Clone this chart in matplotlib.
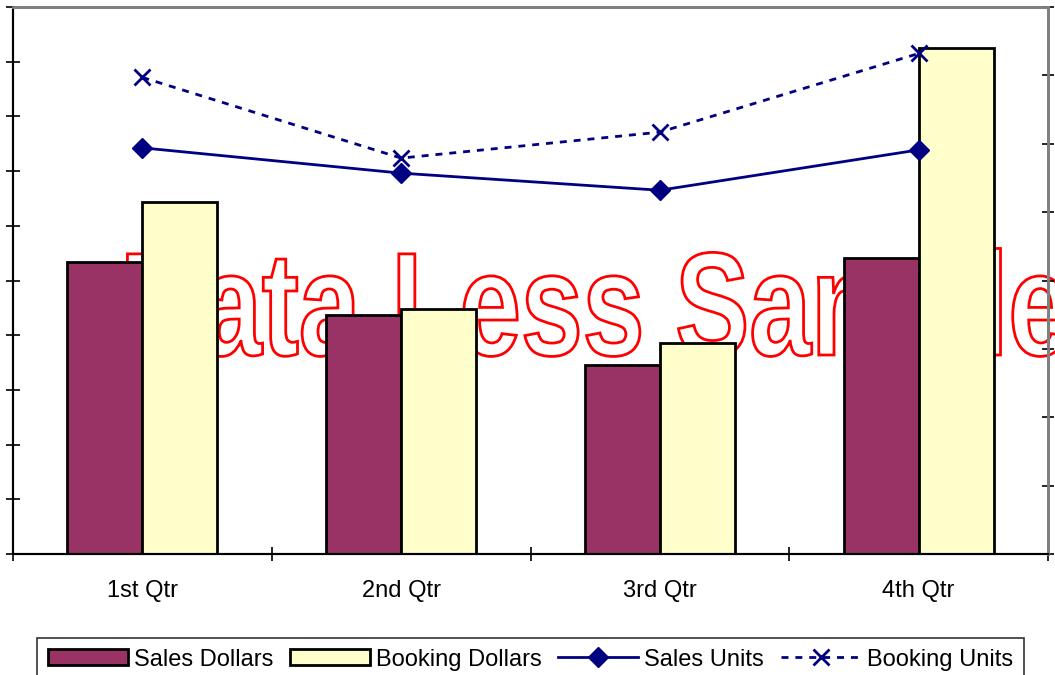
import matplotlib
matplotlib.use("Agg")
import matplotlib.pyplot as plt
from matplotlib.textpath import TextPath
from matplotlib.patches import PathPatch
from matplotlib.font_manager import FontProperties
from matplotlib.transforms import Affine2D
import numpy as np

''' Quarterly sales / bookings chart with a "Data Less Sample" watermark '''

quarters = ["1st Qtr", "2nd Qtr", "3rd Qtr", "4th Qtr"]
sales_dollars = [5.34, 4.37, 3.46, 5.41]
booking_dollars = [6.44, 4.48, 3.86, 9.25]
sales_units = [5.94, 5.57, 5.32, 5.91]
booking_units = [6.97, 5.79, 6.17, 7.32]

plt.rcParams['font.family'] = ['Liberation Sans', 'DejaVu Sans']

W, H = 1055, 675
fig = plt.figure(figsize=(W / 100, H / 100), dpi=100)
ax = fig.add_axes([13 / W, (H - 554) / H, (1048 - 13) / W, (554 - 7) / H])
ax2 = ax.twinx()

# Bars on the primary axis
x = np.arange(len(quarters)) + 0.5
bw = 0.29
ax.bar(x - bw / 2, sales_dollars, bw, color="#993366", edgecolor="black",
       linewidth=2, zorder=2, label="Sales Dollars")
ax.bar(x + bw / 2, booking_dollars, bw, color="#FFFFCC", edgecolor="black",
       linewidth=2, zorder=2, label="Booking Dollars")
ax.set_xlim(0, 4)
ax.set_ylim(0, 10)

# Lines on the secondary axis
ax2.plot(x, sales_units, color="#000080", lw=2, marker="D", markersize=10,
         label="Sales Units", zorder=3)
ax2.plot(x, booking_units, color="#000080", lw=2, ls=(0, (2.5, 2.5)), marker="x",
         markersize=12, markeredgewidth=2, label="Booking Units", zorder=3)
ax2.set_ylim(0, 8)

# Watermark: stretched bold outline text, behind the bars
tp = TextPath((0, 0), "Data Less Sample", size=1,
              prop=FontProperties(family="Liberation Sans", weight="bold"))
tr = Affine2D().scale(111 / W, 147 / H).translate(120 / W, (H - 355) / H) + fig.transFigure
wm = PathPatch(tp, facecolor="white", edgecolor="red", lw=2, transform=tr,
               zorder=1, clip_on=False)
ax.add_patch(wm)

# Axes styling
ax.set_yticks(np.arange(0, 11, 1))
ax.set_yticklabels([])
ax2.set_yticks(np.arange(0, 9, 1))
ax2.set_yticklabels([])
ax.set_xticks(np.arange(0, 5, 1))
ax.set_xticklabels([])
ax.set_xticks(x, minor=True)
ax.set_xticklabels(quarters, minor=True, fontsize=17)
ax.tick_params(axis="x", which="minor", length=0, pad=19)
ax.tick_params(axis="x", which="major", direction="inout", length=10, width=1.2)
ax.tick_params(axis="y", direction="inout", length=10, width=1.2)
ax2.tick_params(axis="y", direction="inout", length=9, width=1.2)

for a in (ax, ax2):
    a.spines["top"].set_color("#808080")
    a.spines["right"].set_color("#808080")
    a.spines["top"].set_linewidth(2)
    a.spines["right"].set_linewidth(2)
    a.spines["left"].set_linewidth(1.5)
    a.spines["bottom"].set_linewidth(1.5)

# Legend below the chart
h1, l1 = ax.get_legend_handles_labels()
h2, l2 = ax2.get_legend_handles_labels()
leg = fig.legend(h1 + h2, l1 + l2, ncol=4, loc="upper left",
                 bbox_to_anchor=(37 / W, 1 - 638 / H), fontsize=17, frameon=True,
                 fancybox=False, handlelength=3.4, handleheight=0.67,
                 handletextpad=0.25, columnspacing=0.7, borderpad=0.45,
                 borderaxespad=0)
leg.get_frame().set_edgecolor("black")
leg.get_frame().set_linewidth(1.2)

fig.savefig("out.png", dpi=100)
